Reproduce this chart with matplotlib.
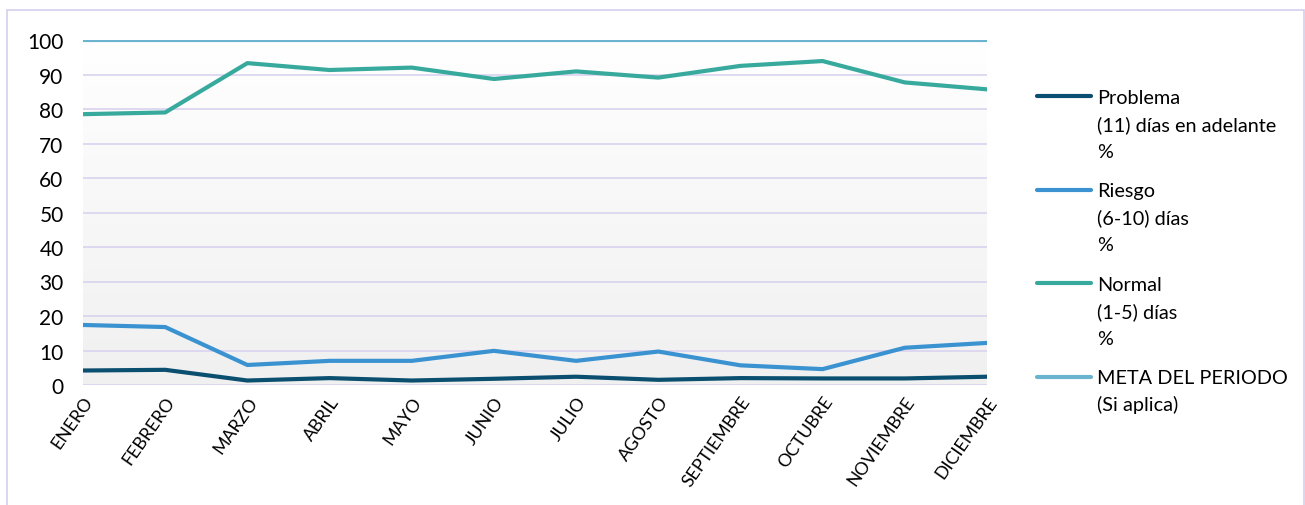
import numpy as np
import matplotlib
matplotlib.use("Agg")
import matplotlib.pyplot as plt
from matplotlib.patches import Rectangle
from matplotlib.lines import Line2D

plt.rcParams['font.family'] = ['Lato', 'DejaVu Sans']

# Data
meses = ['ENERO', 'FEBRERO', 'MARZO', 'ABRIL', 'MAYO', 'JUNIO', 'JULIO',
         'AGOSTO', 'SEPTIEMBRE', 'OCTUBRE', 'NOVIEMBRE', 'DICIEMBRE']
problema = [4.2, 4.4, 1.3, 2.0, 1.3, 1.8, 2.4, 1.5, 2.0, 1.9, 1.9, 2.4]
riesgo = [17.4, 16.8, 5.8, 7.0, 7.0, 9.9, 7.0, 9.7, 5.7, 4.6, 10.8, 12.2]
normal = [78.5, 79.0, 93.3, 91.3, 92.0, 88.7, 90.9, 89.1, 92.5, 93.9, 87.7, 85.7]
meta = [100] * 12

labels = ['Problema\n(11) días en adelante\n%',
          'Riesgo\n(6-10) días\n%',
          'Normal\n(1-5) días\n%',
          'META DEL PERIODO\n(Si aplica)']
colores = ['#0b4f70', '#3a93d0', '#38aa9d', '#6ab4cf']

W, H = 1305, 506
fig = plt.figure(figsize=(W / 100, H / 100), dpi=100)
# chart border
fig.patches.append(Rectangle((7 / W, -0.01), 1297 / W, 1 - 11 / H + 0.01,
                             transform=fig.transFigure, fill=False,
                             edgecolor='#d4cff0', linewidth=1.2))

ax = fig.add_axes([83 / W, 1 - 386 / H, (987 - 83) / W, (386 - 41) / H])

x = np.arange(len(meses))

# gradient background of plot area
grad = np.linspace(0, 1, 256).reshape(-1, 1)
ax.imshow(grad, extent=[0, 11, 0, 100], aspect='auto', origin='lower',
          cmap=matplotlib.colors.LinearSegmentedColormap.from_list('g', ['#f0f0f0', '#ffffff']),
          zorder=0)

for serie, col in zip([problema, riesgo, normal, meta], colores):
    ax.plot(x, serie, color=col, linewidth=3, zorder=3, solid_capstyle='round')

ax.set_xlim(0, 11)
ax.set_ylim(0, 100)
ax.set_yticks(range(0, 101, 10))
ax.set_xticks(x)
ax.set_xticklabels(meses, rotation=55, ha='right', rotation_mode='anchor', fontsize=12.8)
ax.tick_params(axis='y', labelsize=15, length=0, pad=14)
ax.tick_params(axis='x', length=0, pad=6)
ax.grid(axis='y', color='#d9d3ef', linewidth=1.2, zorder=1)
for s in ax.spines.values():
    s.set_visible(False)

# legend: handle aligned with the first text line, as in the original
y0, paso, linea = 97, 93.5, 27
for i, (lab, col) in enumerate(zip(labels, colores)):
    yy = y0 + i * paso
    fig.add_artist(Line2D([1037 / W, 1091 / W], [1 - yy / H, 1 - yy / H],
                          transform=fig.transFigure, color=col, linewidth=3,
                          solid_capstyle='round'))
    for k, txt in enumerate(lab.split('\n')):
        fig.text(1097 / W, 1 - (yy + k * linea + 7) / H, txt, fontsize=14.3,
                 va='baseline', ha='left')

fig.savefig('out.png', dpi=100)
